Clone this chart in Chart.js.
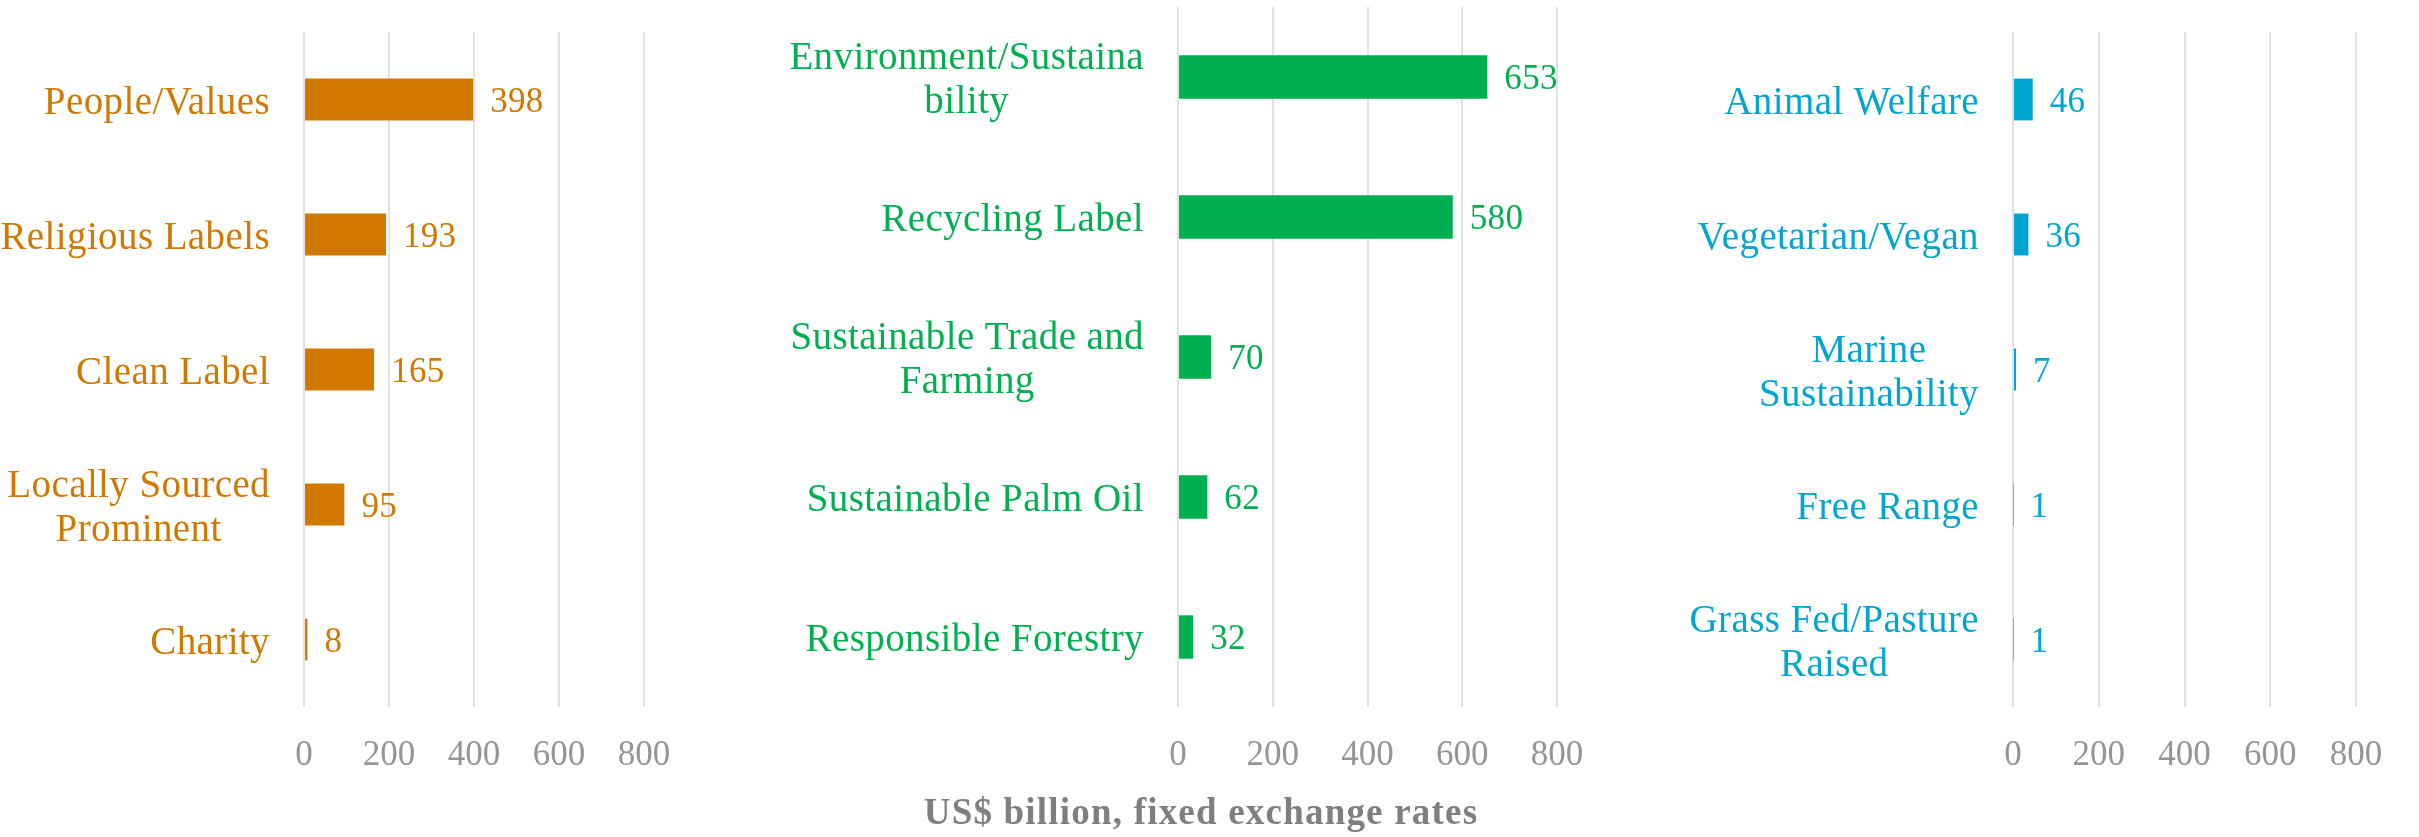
<!DOCTYPE html>
<html>
<head>
<meta charset="utf-8">
<script src="https://cdn.jsdelivr.net/npm/chart.js@4/dist/chart.umd.min.js"></script>
<style>
  html, body { margin: 0; padding: 0; background: #ffffff; }
  body { width: 2419px; height: 837px; position: relative; overflow: hidden; }
  .panel { position: absolute; top: 0; height: 837px; }
  #title {
    position: absolute; left: 801px; top: 792px; width: 800px; height: 40px;
    line-height: 40px; text-align: center;
    font-family: "Liberation Serif", serif; font-weight: bold; font-size: 37px;
    letter-spacing: 1.2px; color: #7F7F7F;
  }
</style>
</head>
<body>
<div class="panel" style="left:0px;width:700px;"><canvas id="c1" width="700" height="837"></canvas></div>
<div class="panel" style="left:700px;width:950px;"><canvas id="c2" width="950" height="837"></canvas></div>
<div class="panel" style="left:1650px;width:769px;"><canvas id="c3" width="769" height="837"></canvas></div>
<div id="title">US$ billion, fixed exchange rates</div>
<script>
// ---- data ----
const categoriesPeople = ["People/Values", "Religious Labels", "Clean Label", ["Locally Sourced", "Prominent"], "Charity"];
const valuesPeople = [398, 193, 165, 95, 8];

const categoriesPlanet = [["Environment/Sustaina", "bility"], "Recycling Label", ["Sustainable Trade and", "Farming"], "Sustainable Palm Oil", "Responsible Forestry"];
const valuesPlanet = [653, 580, 70, 62, 32];

const categoriesAnimal = ["Animal Welfare", "Vegetarian/Vegan", ["Marine", "Sustainability"], "Free Range", ["Grass Fed/Pasture", "Raised"]];
const valuesAnimal = [46, 36, 7, 1, 1];

const xTickValues = [0, 200, 400, 600, 800];

// ---- styles ----
const FONT = '"Liberation Serif", serif';
const GRID = '#E2E2E2';
const TICK = '#959595';

const labelPlugin = {
  id: 'customLabels',
  afterDatasetsDraw(chart, args, opts) {
    const ctx = chart.ctx;
    const yScale = chart.scales.y;
    const meta = chart.getDatasetMeta(0);
    const color = opts.color;
    ctx.save();
    // category labels
    ctx.font = '39px ' + FONT;
    ctx.letterSpacing = '0.4px';
    ctx.fillStyle = color;
    ctx.textAlign = 'center';
    ctx.textBaseline = 'middle';
    const lineH = 44;
    chart.data.labels.forEach((lab, i) => {
      const lines = Array.isArray(lab) ? lab : [lab];
      const w = Math.max(...lines.map(t => ctx.measureText(t).width));
      const cx = chart.chartArea.left - 34 - w / 2;
      const yc = yScale.getPixelForTick(i) + 4;
      const y0 = yc - (lines.length - 1) * lineH / 2;
      lines.forEach((t, k) => ctx.fillText(t, cx, y0 + k * lineH));
    });
    // value labels
    ctx.font = '35px ' + FONT;
    ctx.letterSpacing = '0.3px';
    ctx.textAlign = 'left';
    meta.data.forEach((bar, i) => {
      const v = chart.data.datasets[0].data[i];
      ctx.fillText(String(v), bar.x + 17, bar.y + 3);
    });
    ctx.restore();
  }
};

function makeChart(id, cats, vals, color, yWidth, padTop, padRight) {
  return new Chart(document.getElementById(id), {
    type: 'bar',
    data: {
      labels: cats,
      datasets: [{
        data: vals,
        backgroundColor: color,
        borderWidth: 0,
        barPercentage: 0.31,
        categoryPercentage: 1.0
      }]
    },
    options: {
      indexAxis: 'y',
      responsive: false,
      animation: false,
      events: [],
      layout: { padding: { top: padTop, right: padRight, left: 0, bottom: 0 } },
      plugins: {
        legend: { display: false },
        tooltip: { enabled: false },
        customLabels: { color: color }
      },
      scales: {
        x: {
          min: xTickValues[0],
          max: xTickValues[xTickValues.length - 1],
          afterBuildTicks: (scale) => { scale.ticks = xTickValues.map(v => ({ value: v })); },
          afterFit: (scale) => { scale.height = 130; },
          grid: { color: GRID, lineWidth: 2, drawTicks: false },
          border: { display: false },
          ticks: {
            padding: 28,
            color: TICK,
            font: { family: FONT, size: 35 },
            maxRotation: 0
          }
        },
        y: {
          afterFit: (scale) => { scale.width = yWidth; },
          grid: { display: false },
          border: { display: false },
          ticks: { display: false }
        }
      }
    },
    plugins: [labelPlugin]
  });
}

makeChart('c1', categoriesPeople, valuesPeople, '#D07800', 304, 32, 56);
makeChart('c2', categoriesPlanet, valuesPlanet, '#00B050', 478, 7, 93);
makeChart('c3', categoriesAnimal, valuesAnimal, '#00A6CF', 363, 32, 63);
</script>
</body>
</html>
